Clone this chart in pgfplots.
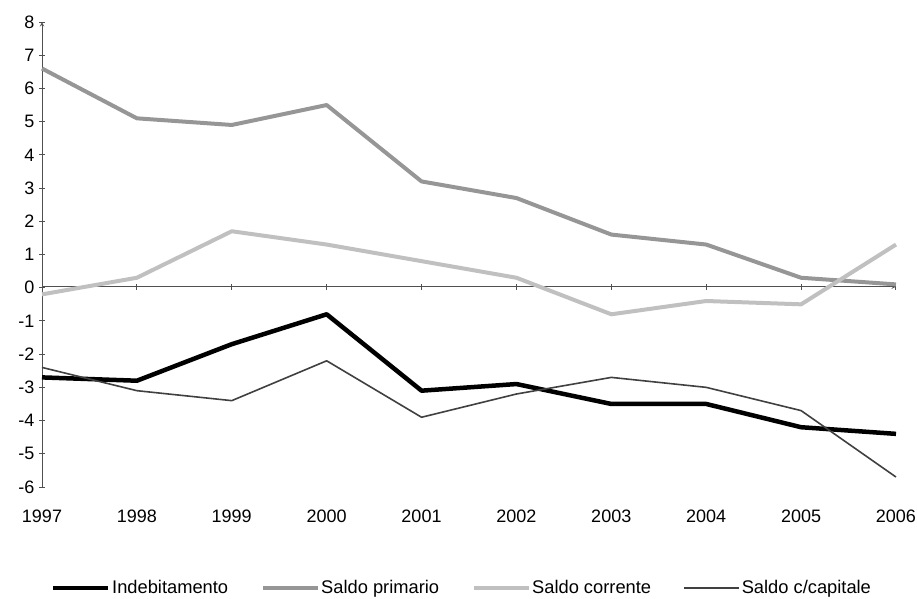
\documentclass[border=0pt]{standalone}
\usepackage{fontspec}
\setmainfont{Liberation Sans}
\usepackage{pgfplots}
\usepackage{pgfplotstable}
\pgfplotsset{compat=1.18}

\definecolor{primario}{RGB}{150,150,150}
\definecolor{corrente}{RGB}{192,192,192}
\definecolor{capitale}{RGB}{64,64,64}
\definecolor{axisgray}{RGB}{80,80,80}

\pgfplotstableread{
year  val
1997  -2.7
1998  -2.8
1999  -1.7
2000  -0.8
2001  -3.1
2002  -2.9
2003  -3.5
2004  -3.5
2005  -4.2
2006  -4.4
}\indebitamento

\pgfplotstableread{
year  val
1997  6.6
1998  5.1
1999  4.9
2000  5.5
2001  3.2
2002  2.7
2003  1.6
2004  1.3
2005  0.3
2006  0.1
}\primario

\pgfplotstableread{
year  val
1997  -0.2
1998  0.3
1999  1.7
2000  1.3
2001  0.8
2002  0.3
2003  -0.8
2004  -0.4
2005  -0.5
2006  1.3
}\corrente

\pgfplotstableread{
year  val
1997  -2.4
1998  -3.1
1999  -3.4
2000  -2.2
2001  -3.9
2002  -3.2
2003  -2.7
2004  -3.0
2005  -3.7
2006  -5.7
}\capitale

\pgfplotsset{
  common/.style={
    scale only axis, width=854pt,
    xmin=1997, xmax=2006,
    xtick={1997,...,2006},
    axis line style={-, draw=axisgray, line width=1pt},
    every tick/.style={draw=axisgray, line width=1pt},
    tick align=outside,
    major tick length=6pt,
  },
}

\begin{document}
\begin{tikzpicture}
\useasboundingbox (0pt,0pt) rectangle (917pt,598pt);
% horizontal zero line with its tick marks
\begin{axis}[
  common,
  at={(42pt,311.29pt)}, anchor=south west,
  height=265.71pt, ymin=0, ymax=8,
  axis x line=bottom, axis y line=none,
  xticklabels={}, ytick=\empty,
]
\end{axis}
% data, vertical axis and year labels
\begin{axis}[
  common,
  at={(42pt,111pt)}, anchor=south west,
  height=465pt, ymin=-6, ymax=8,
  axis y line=left, axis x line=bottom,
  x axis line style={draw=none},
  major x tick style={draw=none},
  ytick={-6,...,8},
  /pgf/number format/assume math mode=true,
  /pgf/number format/set thousands separator={},
  tick label style={font=\fontsize{18}{20}\selectfont, text=black},
  xticklabel style={anchor=north, yshift=-16pt},
  yticklabel style={anchor=east, xshift=-1pt},
  clip=false,
  legend columns=4,
  legend style={draw=none, fill=none, inner sep=0pt,
    at={(0.0105,-0.217)}, anchor=west,
    font=\fontsize{18.3}{20}\selectfont,
    nodes={inner xsep=1.5pt},
    /tikz/every even column/.append style={column sep=31pt}},
  legend image code/.code={\draw[#1] (0pt,0pt) -- (55pt,0pt);},
  every axis plot/.append style={line join=round},
]
\addplot[black, line width=4.5pt] table[x=year, y=val] {\indebitamento};
\addlegendentry{Indebitamento}
\addplot[primario, line width=4pt] table[x=year, y=val] {\primario};
\addlegendentry{Saldo primario}
\addplot[corrente, line width=4pt] table[x=year, y=val] {\corrente};
\addlegendentry{Saldo corrente}
\addplot[capitale, line width=1.6pt] table[x=year, y=val] {\capitale};
\addlegendentry{Saldo c/capitale}
\end{axis}
\end{tikzpicture}
\end{document}
